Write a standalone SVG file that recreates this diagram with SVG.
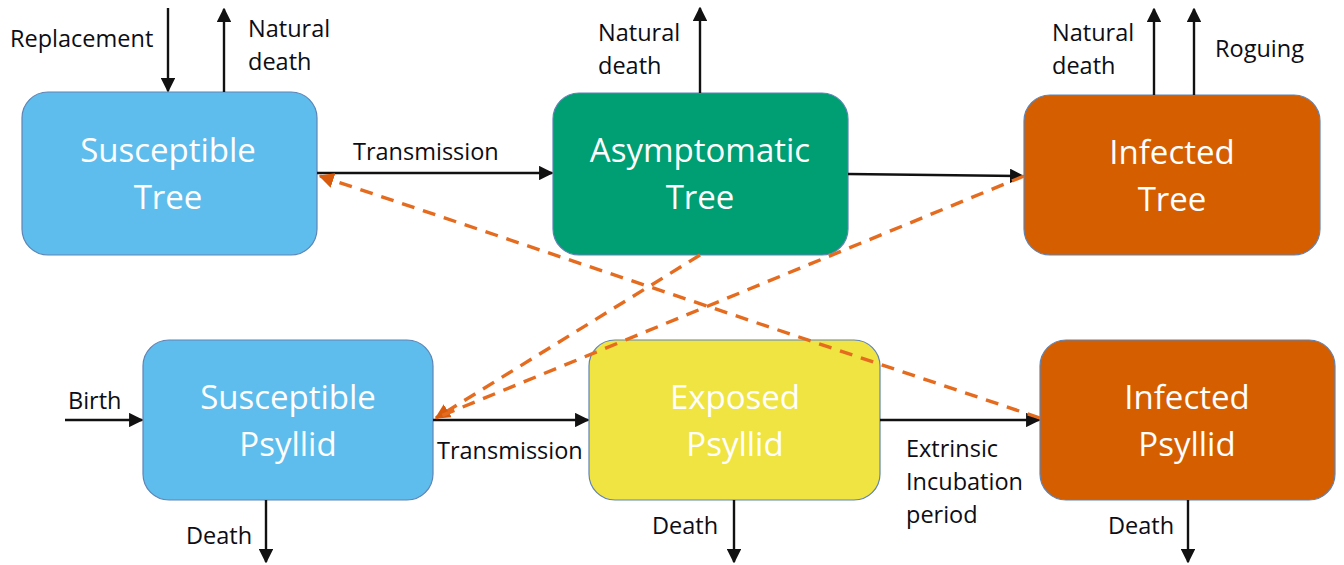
<svg xmlns="http://www.w3.org/2000/svg" width="1344" height="565" viewBox="0 0 1344 565">
<defs>
<style>
.box{stroke:#5f83b5;stroke-width:1.2}
.nt{font-family:"Open Sans",Lato,sans-serif;font-size:33px;fill:#ffffff;text-anchor:middle}
.lb{font-family:"Open Sans",Lato,sans-serif;font-size:23.5px;fill:#0d0d14}
.ar{stroke:#111111;stroke-width:2.4;fill:none;marker-end:url(#ah)}
.dl{stroke:#e56b1f;stroke-width:3.4;fill:none;stroke-dasharray:13 9}
</style>
<marker id="ah" viewBox="0 0 10 10" refX="9" refY="5" markerWidth="6" markerHeight="6" markerUnits="strokeWidth" orient="auto">
<path d="M0,0 L10,5 L0,10 z" fill="#111111"/>
</marker>
<marker id="ao" viewBox="0 0 10 10" refX="9" refY="5" markerWidth="4.5" markerHeight="4.5" markerUnits="strokeWidth" orient="auto">
<path d="M0,0 L10,5 L0,10 z" fill="#d85a0c"/>
</marker>
</defs>
<rect width="1344" height="565" fill="#ffffff"/>

<g id="susceptible-tree">
<rect class="box" x="22" y="92" width="295" height="163" rx="26" fill="#5ebdec"/>
<text class="nt" x="168" y="162">Susceptible</text>
<text class="nt" x="168" y="209">Tree</text>
</g>
<g id="asymptomatic-tree">
<rect class="box" x="553" y="93" width="295" height="162" rx="26" fill="#009e73"/>
<text class="nt" x="700" y="162">Asymptomatic</text>
<text class="nt" x="700" y="209">Tree</text>
</g>
<g id="infected-tree">
<rect class="box" x="1024" y="95" width="296" height="160" rx="26" fill="#d55e00"/>
<text class="nt" x="1172" y="164">Infected</text>
<text class="nt" x="1172" y="211">Tree</text>
</g>
<g id="susceptible-psyllid">
<rect class="box" x="143" y="340" width="290" height="160" rx="26" fill="#5ebdec"/>
<text class="nt" x="288" y="409">Susceptible</text>
<text class="nt" x="288" y="456">Psyllid</text>
</g>
<g id="exposed-psyllid">
<rect class="box" x="589" y="340" width="291" height="160" rx="26" fill="#f0e442"/>
<text class="nt" x="735" y="409">Exposed</text>
<text class="nt" x="735" y="456">Psyllid</text>
</g>
<g id="infected-psyllid">
<rect class="box" x="1040" y="340" width="295" height="160" rx="26" fill="#d55e00"/>
<text class="nt" x="1187" y="409">Infected</text>
<text class="nt" x="1187" y="456">Psyllid</text>
</g>

<g id="connectors">
<line class="ar" x1="168" y1="8" x2="168" y2="91"/>
<line class="ar" x1="224" y1="92" x2="224" y2="9"/>
<line class="ar" x1="700" y1="93" x2="700" y2="8"/>
<line class="ar" x1="1154" y1="95" x2="1154" y2="9"/>
<line class="ar" x1="1194" y1="95" x2="1194" y2="9"/>
<line class="ar" x1="317" y1="173" x2="552" y2="173"/>
<line class="ar" x1="848" y1="174" x2="1023" y2="176"/>
<line class="ar" x1="65" y1="420" x2="142" y2="420"/>
<line class="ar" x1="433" y1="420" x2="588" y2="420"/>
<line class="ar" x1="880" y1="420" x2="1039" y2="420"/>
<line class="ar" x1="266" y1="500" x2="266" y2="562"/>
<line class="ar" x1="734" y1="500" x2="734" y2="562"/>
<line class="ar" x1="1188" y1="500" x2="1188" y2="562"/>
<line class="dl" x1="1040" y1="418" x2="320" y2="176" marker-end="url(#ao)"/>
<line class="dl" x1="700" y1="255" x2="436" y2="418" marker-end="url(#ao)"/>
<line class="dl" x1="1024" y1="176" x2="436" y2="418"/>
</g>

<g id="labels">
<text class="lb" x="10" y="47">Replacement</text>
<text class="lb" x="248" y="37">Natural</text>
<text class="lb" x="248" y="70">death</text>
<text class="lb" x="598" y="41">Natural</text>
<text class="lb" x="598" y="74">death</text>
<text class="lb" x="1052" y="41">Natural</text>
<text class="lb" x="1052" y="74">death</text>
<text class="lb" x="1215" y="57">Roguing</text>
<text class="lb" x="353" y="160">Transmission</text>
<text class="lb" x="68" y="409">Birth</text>
<text class="lb" x="437" y="459">Transmission</text>
<text class="lb" x="906" y="457">Extrinsic</text>
<text class="lb" x="906" y="490">Incubation</text>
<text class="lb" x="906" y="523">period</text>
<text class="lb" x="186" y="544">Death</text>
<text class="lb" x="652" y="534">Death</text>
<text class="lb" x="1108" y="534">Death</text>
</g>
</svg>
